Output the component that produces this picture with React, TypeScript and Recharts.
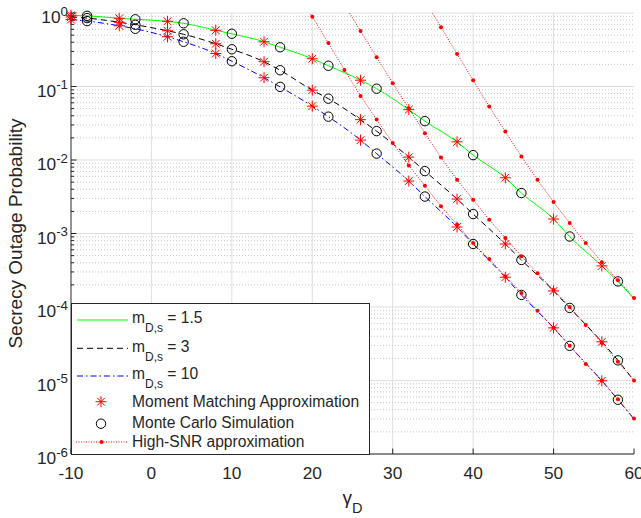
import React from "react";
import {
  ComposedChart,
  Line,
  Scatter,
  XAxis,
  YAxis,
  CartesianGrid,
  Legend,
} from "recharts";

// ---- SNR grids (dB) ----
const gammaMM = [-10, -4, 2, 8, 14, 20, 26, 32, 38, 44, 50, 56];
const gammaMC = [-8, -2, 4, 10, 16, 22, 28, 34, 40, 46, 52, 58];
const gammaLast = 60;

// ---- m_{D,s} = 1.5 ----
const mmM15 = [0.9306, 0.8473, 0.7714, 0.5819, 0.4062, 0.2386, 0.1218, 0.04839, 0.01767, 0.005729, 0.001574, 0.000362];
const mcM15 = [0.9162, 0.8212, 0.7244, 0.5216, 0.342, 0.1916, 0.09335, 0.03377, 0.01166, 0.003551, 0.00091, 0.000223];
const lastM15 = 0.000129;

// ---- m_{D,s} = 3 ----
const mmM3 = [0.8823, 0.7476, 0.5729, 0.3816, 0.2173, 0.0891, 0.03539, 0.01094, 0.002942, 0.00072, 0.0001655, 0.0000336];
const mcM3 = [0.8525, 0.6913, 0.5135, 0.3211, 0.1665, 0.0683, 0.0247, 0.007066, 0.00184, 0.0004365, 0.0000972, 0.0000188];
const lastM3 = 0.0000099;

// ---- m_{D,s} = 10 ----
const mmM10 = [0.8135, 0.67, 0.4749, 0.2808, 0.1317, 0.05401, 0.01864, 0.005168, 0.001226, 0.000254, 0.000052, 0.0000099];
const mcM10 = [0.776, 0.61, 0.4062, 0.2207, 0.09876, 0.03888, 0.01222, 0.003182, 0.00072, 0.000146, 0.0000296, 0.00000547];
const lastM10 = 0.00000299;

// ---- high-SNR asymptotes ----
const gammaHigh10 = [18, 20, 22, 24, 26, 28, 30, 32, 34, 36, 38, 40, 42, 44, 46, 48, 50, 52, 54, 56, 58, 60];
const high10 = [2.0, 0.89, 0.39, 0.168, 0.0745, 0.0355, 0.017, 0.00843, 0.00447, 0.00234, 0.00132, 0.00074, 0.00045, 0.000263, 0.000155, 0.000089, 0.000052, 0.0000298, 0.0000168, 0.00001, 0.00000556, 0.00000305];
const gammaHigh3 = [24, 26, 28, 30, 32, 34, 36, 38, 40, 42, 44, 46, 48, 50, 52, 54, 56, 58, 60];
const high3 = [1.3, 0.569, 0.25, 0.111, 0.0507, 0.0232, 0.0108, 0.00538, 0.00288, 0.00154, 0.00087, 0.00049, 0.000288, 0.00017, 0.0001, 0.000057, 0.0000324, 0.000018, 0.00001];
const gammaHigh15 = [34, 36, 38, 40, 42, 44, 46, 48, 50, 52, 54, 56, 58, 60];
const high15 = [1.48, 0.64, 0.277, 0.1216, 0.0533, 0.0244, 0.01117, 0.00538, 0.00268, 0.00139, 0.000743, 0.000405, 0.000231, 0.000133];

// ---- axes ----
const xTicks = [-10, 0, 10, 20, 30, 40, 50, 60];
const xGrid = [0, 10, 20, 30, 40, 50];
const yDecades = [1e-6, 1e-5, 1e-4, 1e-3, 1e-2, 1e-1, 1];
const minorSteps = [2, 3, 4, 5, 6, 7, 8, 9];
const yMinor = yDecades.slice(0, -1).flatMap((d) => minorSteps.map((m) => m * d));
const yTicks = [...yDecades, ...yMinor].sort((a, b) => a - b);

const W = 641;
const H = 518;
const MARGIN = { top: 13, right: 7, bottom: 0, left: 0 };
const Y_AXIS_W = 71;
const X_AXIS_H = 64;
const PLOT_LEFT = MARGIN.left + Y_AXIS_W;
const PLOT_RIGHT = W - MARGIN.right;
const PLOT_TOP = MARGIN.top;
const PLOT_BOTTOM = H - MARGIN.bottom - X_AXIS_H;

const FONT = '"Liberation Sans", Arial, Helvetica, sans-serif';
const AXIS = "#262626";
const TICK_MAJOR = 5.5;
const TICK_MINOR = 3;

const GREEN = "#00ff00";
const BLUE = "#0000ff";
const RED = "#ff0000";

const toPoints = (xs: number[], ys: number[]) => xs.map((x, i) => ({ x, y: ys[i] }));
const curve = (mm: number[], mc: number[], last: number) =>
  [...toPoints(gammaMM, mm), ...toPoints(gammaMC, mc), { x: gammaLast, y: last }].sort((a, b) => a.x - b.x);

const isDecade = (v: number) => Math.abs(Math.log10(v) - Math.round(Math.log10(v))) < 1e-9;

// ---- tick renderers (MATLAB-style inward ticks) ----
const LeftTick = (p: any) => {
  const { x, y, payload } = p;
  const v = payload.value as number;
  const major = isDecade(v);
  return (
    <g>
      <line x1={x} x2={x + (major ? TICK_MAJOR : TICK_MINOR)} y1={y} y2={y} stroke={AXIS} strokeWidth={1} />
      {major && (
        <text x={x - 3} y={y + 10} textAnchor="end" fontFamily={FONT} fill={AXIS}>
          <tspan fontSize={17.3}>10</tspan>
          <tspan fontSize={13.3} dy={-7.5}>{String(Math.round(Math.log10(v)))}</tspan>
        </text>
      )}
    </g>
  );
};

const RightTick = (p: any) => {
  const { x, y, payload } = p;
  const major = isDecade(payload.value as number);
  return <line x1={x} x2={x - (major ? TICK_MAJOR : TICK_MINOR)} y1={y} y2={y} stroke={AXIS} strokeWidth={1} />;
};

const BottomTick = (p: any) => {
  const { x, y, payload } = p;
  return (
    <g>
      <line x1={x} x2={x} y1={y} y2={y - TICK_MAJOR} stroke={AXIS} strokeWidth={1} />
      <text x={x} y={y + 25} textAnchor="middle" fontFamily={FONT} fontSize={17.3} fill={AXIS}>
        {String(payload.value)}
      </text>
    </g>
  );
};

const TopTick = (p: any) => {
  const { x, y } = p;
  return <line x1={x} x2={x} y1={y} y2={y + TICK_MAJOR} stroke={AXIS} strokeWidth={1} />;
};

// ---- axis titles ----
const XTitle = () => (
  <text x={(PLOT_LEFT + PLOT_RIGHT) / 2} y={PLOT_BOTTOM + 50} textAnchor="middle" fontFamily={FONT} fill={AXIS}>
    <tspan fontSize={19}>γ</tspan>
    <tspan fontSize={14.6} dy={9}>D</tspan>
  </text>
);

const YTitle = () => {
  const cx = 22;
  const cy = (PLOT_TOP + PLOT_BOTTOM) / 2;
  return (
    <text
      x={cx}
      y={cy}
      transform={`rotate(-90 ${cx} ${cy})`}
      textAnchor="middle"
      fontFamily={FONT}
      fontSize={19}
      fill={AXIS}
    >
      Secrecy Outage Probability
    </text>
  );
};

// ---- markers ----
const Asterisk = (p: any) => {
  const { cx, cy } = p;
  const r = 5.5;
  const d = r * 0.7071;
  return (
    <g stroke={RED} strokeWidth={1} fill="none">
      <line x1={cx - r} y1={cy} x2={cx + r} y2={cy} />
      <line x1={cx} y1={cy - r} x2={cx} y2={cy + r} />
      <line x1={cx - d} y1={cy - d} x2={cx + d} y2={cy + d} />
      <line x1={cx - d} y1={cy + d} x2={cx + d} y2={cy - d} />
    </g>
  );
};

const Ring = (p: any) => {
  const { cx, cy } = p;
  return <circle cx={cx} cy={cy} r={4.7} stroke="#000" strokeWidth={1} fill="none" />;
};

const SmallDot = (p: any) => {
  const { cx, cy, index } = p;
  if (cx == null || cy == null) return <g key={`d-${index}`} />;
  return <circle key={`d-${index}-${cx}`} cx={cx} cy={cy} r={2} fill={RED} stroke="none" />;
};

// ---- legend ----
const LegendBox = () => {
  const tx = 61;
  const lx1 = 6;
  const lx2 = 57;
  const mRow = (y: number, val: string, line: React.ReactNode) => (
    <g>
      {line}
      <text x={tx} y={y} fontFamily={FONT} fill={AXIS}>
        <tspan fontSize={15.6}>m</tspan>
        <tspan fontSize={12} dy={9}>D,s</tspan>
        <tspan fontSize={15.6} dy={-9}>{` = ${val}`}</tspan>
      </text>
    </g>
  );
  return (
    <svg width={299} height={152} style={{ display: "block" }}>
      <rect x={0.5} y={0.5} width={298} height={151} fill="#fff" stroke={AXIS} strokeWidth={1} />
      {mRow(20.3, "1.5", <line x1={lx1} x2={lx2} y1={17} y2={17} stroke={GREEN} strokeWidth={1} />)}
      {mRow(48.7, "3", <line x1={lx1} x2={lx2} y1={45.3} y2={45.3} stroke="#000" strokeWidth={1} strokeDasharray="6 4" />)}
      {mRow(76.3, "10", <line x1={lx1} x2={lx2} y1={73} y2={73} stroke={BLUE} strokeWidth={1} strokeDasharray="6 3 1.5 3" />)}
      <Asterisk cx={30} cy={98.7} />
      <text x={tx} y={103.7} fontFamily={FONT} fontSize={15.6} fill={AXIS}>Moment Matching Approximation</text>
      <Ring cx={30} cy={120.7} />
      <text x={tx} y={125} fontFamily={FONT} fontSize={15.6} fill={AXIS}>Monte Carlo Simulation</text>
      <line x1={lx1 - 1} x2={lx2 - 1} y1={139} y2={139} stroke={RED} strokeWidth={1} strokeDasharray="1 1.5" />
      <circle cx={30.5} cy={139} r={2} fill={RED} />
      <text x={tx} y={144} fontFamily={FONT} fontSize={15.6} fill={AXIS}>High-SNR approximation</text>
    </svg>
  );
};

export default function App() {
  const c15 = curve(mmM15, mcM15, lastM15);
  const c3 = curve(mmM3, mcM3, lastM3);
  const c10 = curve(mmM10, mcM10, lastM10);

  return (
    <div style={{ position: "absolute", left: 0, top: 0, width: W, height: H, background: "#fff" }}>
      <ComposedChart width={W} height={H} margin={MARGIN}>
        <CartesianGrid horizontalValues={yDecades} verticalValues={xGrid} stroke="#dfdfdf" strokeWidth={1} />
        <CartesianGrid horizontalValues={yMinor} vertical={false} stroke="#c6c6c6" strokeWidth={1} strokeDasharray="1 2" />

        <XAxis
          dataKey="x"
          type="number"
          domain={[-10, 60]}
          ticks={xTicks}
          interval={0}
          height={X_AXIS_H}
          tickSize={0}
          tickMargin={0}
          tickLine={false}
          axisLine={{ stroke: AXIS, strokeWidth: 1 }}
          tick={BottomTick}
          label={<XTitle />}
        />
        <XAxis
          xAxisId="top"
          orientation="top"
          type="number"
          domain={[-10, 60]}
          ticks={xTicks}
          interval={0}
          height={0}
          tickSize={0}
          tickMargin={0}
          tickLine={false}
          axisLine={{ stroke: AXIS, strokeWidth: 1 }}
          tick={TopTick}
        />
        <YAxis
          dataKey="y"
          type="number"
          scale="log"
          domain={[1e-6, 1]}
          ticks={yTicks}
          interval={0}
          width={Y_AXIS_W}
          tickSize={0}
          tickMargin={0}
          tickLine={false}
          axisLine={{ stroke: AXIS, strokeWidth: 1 }}
          tick={LeftTick}
          label={<YTitle />}
        />
        <YAxis
          yAxisId="right"
          orientation="right"
          dataKey="y"
          type="number"
          scale="log"
          domain={[1e-6, 1]}
          allowDataOverflow
          ticks={yTicks}
          interval={0}
          width={0}
          tickSize={0}
          tickMargin={0}
          tickLine={false}
          axisLine={{ stroke: AXIS, strokeWidth: 1 }}
          tick={RightTick}
        />

        <Line data={c15} dataKey="y" type="monotone" stroke={GREEN} strokeWidth={1} dot={false} isAnimationActive={false} />
        <Line data={c3} dataKey="y" type="monotone" stroke="#000" strokeWidth={1} strokeDasharray="6 4" dot={false} isAnimationActive={false} />
        <Line data={c10} dataKey="y" type="monotone" stroke={BLUE} strokeWidth={1} strokeDasharray="6 3 1.5 3" dot={false} isAnimationActive={false} />

        <Scatter data={toPoints(gammaMM, mmM15)} shape={Asterisk} isAnimationActive={false} />
        <Scatter data={toPoints(gammaMM, mmM3)} shape={Asterisk} isAnimationActive={false} />
        <Scatter data={toPoints(gammaMM, mmM10)} shape={Asterisk} isAnimationActive={false} />
        <Scatter data={toPoints(gammaMC, mcM15)} shape={Ring} isAnimationActive={false} />
        <Scatter data={toPoints(gammaMC, mcM3)} shape={Ring} isAnimationActive={false} />
        <Scatter data={toPoints(gammaMC, mcM10)} shape={Ring} isAnimationActive={false} />

        <Line yAxisId="right" data={toPoints(gammaHigh10, high10)} dataKey="y" type="linear" stroke={RED} strokeWidth={1} strokeDasharray="1 1.5" dot={SmallDot} isAnimationActive={false} />
        <Line yAxisId="right" data={toPoints(gammaHigh3, high3)} dataKey="y" type="linear" stroke={RED} strokeWidth={1} strokeDasharray="1 1.5" dot={SmallDot} isAnimationActive={false} />
        <Line yAxisId="right" data={toPoints(gammaHigh15, high15)} dataKey="y" type="linear" stroke={RED} strokeWidth={1} strokeDasharray="1 1.5" dot={SmallDot} isAnimationActive={false} />

        <Legend
          layout="vertical"
          align="center"
          verticalAlign="middle"
          wrapperStyle={{ left: PLOT_LEFT, top: 303, width: 299, height: 152 }}
          content={() => <LegendBox />}
        />
      </ComposedChart>
    </div>
  );
}
